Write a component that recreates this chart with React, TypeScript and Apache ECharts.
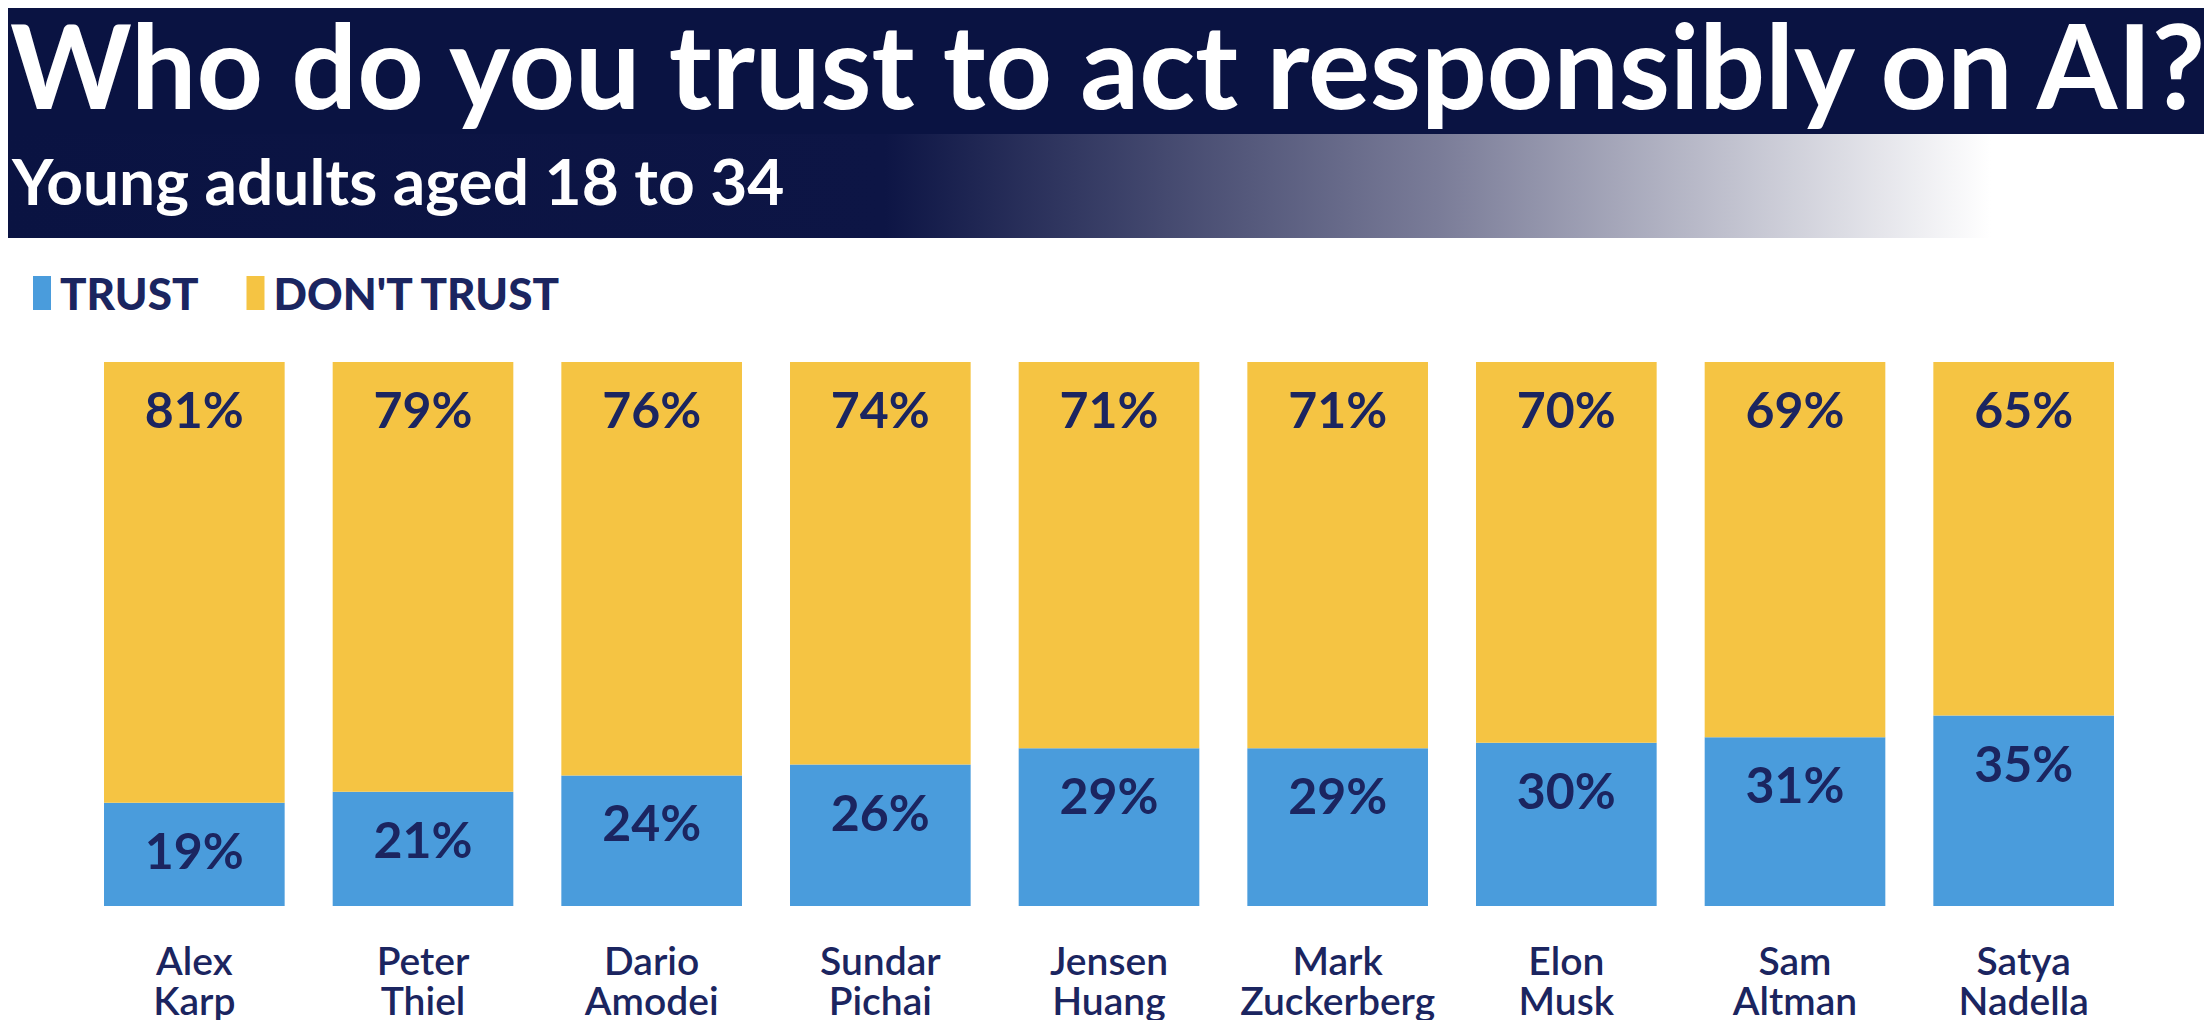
import React, { useEffect, useRef } from "react";
import * as echarts from "echarts";

const categories = ["Alex\nKarp", "Peter\nThiel", "Dario\nAmodei", "Sundar\nPichai", "Jensen\nHuang", "Mark\nZuckerberg", "Elon\nMusk", "Sam\nAltman", "Satya\nNadella"];
const trust = [19, 21, 24, 26, 29, 29, 30, 31, 35];
const dontTrust = [81, 79, 76, 74, 71, 71, 70, 69, 65];

const FONT = "Lato, 'Noto Sans', sans-serif";
const NAVY = "#1b2560";

export default function App() {
  const ref = useRef<HTMLDivElement>(null);
  useEffect(() => {
    const chart = echarts.init(ref.current!, null, { renderer: "svg" });
    const label = {
      show: true,
      position: "insideTop" as const,
      distance: 22,
      color: NAVY,
      fontSize: 50,
      fontWeight: 700,
      fontFamily: FONT,
      formatter: "{c}%",
    };
    chart.setOption({
      animation: false,
      backgroundColor: "#ffffff",
      graphic: [
        { type: "rect", shape: { x: 0, y: 0, width: 2212, height: 134 }, style: { fill: "#0a1342" } },
        {
          type: "rect",
          shape: { x: 0, y: 134, width: 2212, height: 104 },
          style: {
            fill: new echarts.graphic.LinearGradient(0, 0, 1, 0, [
              { offset: 0, color: "#0a1342" },
              { offset: 0.4, color: "#0d1545" },
              { offset: 0.65, color: "#7a7c98" },
              { offset: 0.9, color: "#ffffff" },
              { offset: 1, color: "#ffffff" },
            ]),
          },
        },
        {
          type: "text", left: 10, top: 6,
          style: { text: "Who do you trust to act responsibly on AI?", fill: "#ffffff", fontSize: 116, fontWeight: 700, fontFamily: FONT },
        },
        {
          type: "text", left: 12, top: 148,
          style: { text: "Young adults aged 18 to 34", fill: "#ffffff", fontSize: 64, fontWeight: 700, fontFamily: FONT },
        },
      ],
      legend: {
        left: 28, top: 266, icon: "rect", itemWidth: 18, itemHeight: 34, itemGap: 48,
        textStyle: { color: NAVY, fontSize: 44, fontWeight: 900, fontFamily: FONT, padding: [0, 0, 0, 4] },
        data: ["TRUST", "DON'T TRUST"],
      },
      grid: { left: 80, right: 74, top: 362, bottom: 122 },
      xAxis: {
        type: "category", data: categories,
        axisLine: { show: false }, axisTick: { show: false },
        axisLabel: { interval: 0, color: NAVY, fontSize: 39, fontWeight: 600, fontFamily: FONT, lineHeight: 40, margin: 34 },
      },
      yAxis: { type: "value", min: 0, max: 100, show: false, splitLine: { show: false } },
      series: [
        { name: "TRUST", type: "bar", stack: "a", data: trust, barCategoryGap: "21%", itemStyle: { color: "#4a9cdc" }, label },
        { name: "DON'T TRUST", type: "bar", stack: "a", data: dontTrust, itemStyle: { color: "#f5c443" }, label },
      ],
    });
    return () => chart.dispose();
  }, []);
  return <div ref={ref} style={{ width: 2212, height: 1028, margin: -8 }} />;
}
